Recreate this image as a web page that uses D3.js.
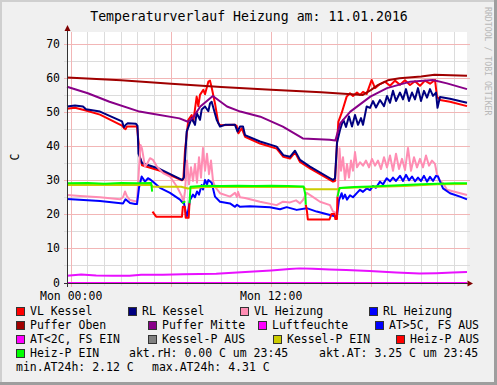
<!DOCTYPE html>
<html>
<head>
<meta charset="utf-8">
<script src="https://cdn.jsdelivr.net/npm/d3@7"></script>
<style>
body { margin: 0; background: #f0f0f0; }
svg { display: block; font-family: "DejaVu Sans Mono", monospace; }
</style>
</head>
<body>
<svg id="chart" width="497" height="385"></svg>
<script>
// values: [hour since Mon 00:00, temperature C]
var vlKessel = [[-0.25,51.2],[0.23,51.5],[0.83,50.8],[1.73,49.5],[3.05,46.3],[3.17,45.5],[3.26,45.2],[3.35,46],[3.95,46],[4.01,43],[4.13,37],[4.25,34.6],[5.33,33],[6.65,30.2],[6.73,30.5],[6.83,39],[7.03,48],[7.23,49.4],[7.33,47.5],[7.53,54.8],[7.63,52],[7.73,55.3],[7.93,56.8],[8.03,55.5],[8.23,59.2],[8.33,59.5],[8.43,57.5],[8.63,52.8],[8.83,47],[8.93,46.4],[9.83,46.5],[9.93,46.2],[10.03,44],[10.23,45.5],[10.43,43],[11.33,41],[12.33,39.5],[12.73,37.1],[13.13,36.6],[13.43,38.4],[13.73,35.6],[14.33,33.7],[15.53,30.3],[15.71,29.8],[15.83,30],[15.95,41],[16.03,47.4],[16.23,50],[16.53,54.8],[16.73,55.8],[16.91,55],[17.15,56],[17.33,55.3],[17.51,56.2],[17.73,55.6],[18.03,59.7],[18.23,57.3],[18.53,58.5],[18.83,59.2],[19.13,58],[19.43,59.5],[19.73,58.3],[20.03,59.6],[20.33,58.2],[20.63,59.3],[20.93,58],[21.23,59.5],[21.53,58.6],[21.83,59.7],[21.95,54.8],[22.13,53.8],[22.73,53.3],[23.75,52]];

var rlKessel = [[-0.25,51.9],[0.23,52.2],[0.71,51.9],[0.89,51.1],[1.73,50.4],[3.05,47.5],[3.17,45.8],[3.29,46.6],[3.41,47],[3.89,46.8],[3.98,46.2],[4.04,38],[4.25,35.3],[5.33,33.5],[6.65,30.3],[6.77,31],[6.93,44.5],[7.23,48.5],[7.43,46.5],[7.53,50],[7.73,48],[7.83,51],[8.03,51.9],[8.23,50.5],[8.33,52.8],[8.43,53.3],[8.73,48],[8.93,46],[9.23,46.5],[9.83,46.5],[9.98,44.5],[10.13,46],[10.31,46],[10.43,43.5],[11.33,41.6],[12.33,40.1],[12.73,37.6],[13.13,37.1],[13.43,38.9],[13.73,36.2],[14.33,34.2],[15.53,30.8],[15.71,30.3],[15.83,30.8],[15.95,41.2],[16.13,45],[16.33,48],[16.49,45.9],[16.67,49],[16.85,46],[17.03,49.4],[17.21,46.5],[17.39,48.5],[17.51,46.5],[17.73,51.9],[17.93,51.5],[18.11,53.5],[18.29,51.6],[18.53,53.8],[18.77,52],[18.95,55],[19.13,53],[19.31,56.5],[19.49,53.5],[19.73,56],[19.91,54],[20.09,57],[20.27,53.5],[20.45,56],[20.63,54],[20.81,57.3],[20.99,53.5],[21.17,56.5],[21.35,54.5],[21.53,57],[21.71,55],[21.89,56],[21.98,51.5],[22.13,54.7],[22.73,54.2],[23.75,53]];

var vlHeizung = [[-0.25,25.9],[0.53,25.6],[1.73,25.2],[2.93,24.6],[3.11,25.2],[3.23,26.9],[3.35,25.5],[3.53,24.4],[3.95,23.9],[4.04,31.3],[4.16,40.6],[4.25,39.5],[4.43,34.2],[4.55,35],[4.73,36.7],[4.91,36.2],[5.15,34.2],[5.51,32.3],[5.93,31.3],[6.35,28.3],[6.65,25.4],[6.73,23.4],[6.83,27],[6.95,36],[7.07,29],[7.19,34],[7.31,30],[7.43,35],[7.55,29.5],[7.67,37],[7.79,31],[7.91,39.7],[8.03,33],[8.15,38],[8.27,32],[8.39,36],[8.51,30],[8.63,28.3],[8.93,26.4],[9.53,25.4],[9.83,26.5],[9.95,25.3],[10.01,26.8],[10.13,25.2],[10.43,25],[11.33,23.9],[12.33,22.9],[12.71,23.9],[13.13,23.7],[13.49,24.3],[13.73,23.4],[13.91,24.4],[14.13,26.5],[14.5,25.3],[14.93,23.9],[15.53,22.9],[15.71,21],[15.95,20.5],[16.03,30],[16.1,39.6],[16.19,33],[16.31,37],[16.43,30.3],[16.55,35],[16.67,31],[16.79,36],[16.91,33],[17.03,38.5],[17.15,34],[17.33,35.5],[17.51,34.5],[17.69,36],[17.87,34],[18.05,36.5],[18.23,34.5],[18.41,36],[18.59,33.5],[18.77,37],[18.95,34],[19.13,37.5],[19.31,33],[19.49,38],[19.67,33.5],[19.85,36.5],[20.03,33.2],[20.21,39.7],[20.39,33],[20.57,37],[20.75,34],[20.93,36.5],[21.11,34],[21.29,37.5],[21.47,34.5],[21.65,36],[21.83,35],[21.95,32],[22.13,30],[22.31,29.4],[22.55,27.4],[23.75,25.9]];

var rlHeizung = [[-0.25,24.7],[1.73,24.1],[3.11,23.4],[3.26,24.6],[3.53,23.5],[3.83,23.2],[3.95,23.2],[4.07,28],[4.23,31.3],[4.43,29.8],[4.61,30.8],[4.73,30.5],[5.33,28],[5.93,26.5],[6.53,24.5],[6.65,23.8],[6.77,23.4],[6.93,19.5],[7.01,21],[7.13,24.4],[7.31,26],[7.43,25.2],[7.55,26.9],[7.67,26],[7.83,28.8],[7.91,27.5],[8.03,30.3],[8.15,29],[8.23,30.3],[8.43,29.5],[8.63,25.4],[8.93,23.9],[9.53,23.4],[9.83,22.4],[9.95,23],[10.13,22.4],[10.73,22.6],[11.93,22.3],[12.53,21.7],[12.93,22.3],[13.53,21.5],[14.13,22],[14.73,21],[15.53,20],[15.71,19.8],[15.83,19.5],[15.95,19.8],[16.07,24.4],[16.23,26.4],[16.31,24.8],[16.43,26],[16.55,24.5],[16.73,25.8],[16.91,25.2],[17.15,26.5],[17.33,27.4],[17.51,26.8],[17.73,27.8],[17.93,27.3],[18.11,28.5],[18.29,28],[18.53,29.8],[18.71,29],[18.93,30.8],[19.13,29.9],[19.31,31],[19.49,30],[19.73,31.5],[19.91,30],[20.09,31.8],[20.27,30.2],[20.45,31.3],[20.63,29.9],[20.81,31],[20.99,30],[21.17,31.5],[21.35,29.8],[21.53,31.2],[21.71,30],[21.89,31.5],[22.01,31.3],[22.31,27.8],[22.73,26.4],[23.33,25.4],[23.75,24.6]];

var pufferOben = [[-0.25,60.4],[3,59.6],[6,58.6],[9,57.6],[12,56.8],[15,56.1],[17.5,55.3],[18,56.8],[18.4,58.2],[19,59.6],[19.7,60.2],[21,60.7],[21.8,61.2],[23.75,60.9]];

var pufferMitte = [[-0.25,57.7],[1,55.8],[2.3,53.3],[4.1,50.4],[4.7,49.9],[6.5,48.4],[7,47.4],[7.3,48.6],[7.75,51.9],[8.5,55],[9.35,51.9],[10.15,50.4],[11.35,48.9],[12.7,46],[13.9,42.5],[15.5,42.1],[15.85,41.9],[16.15,47],[16.75,50.4],[17.95,54.8],[18.95,57.3],[20.35,59.2],[21.7,59.7],[22.55,58.7],[23.75,57]];

var luftfeuchte = [[-0.25,0],[23.75,0]];

var aussenTemp = [[-0.25,2.1],[0.6,2.5],[1.5,2.2],[2.5,2.1],[3.5,2.1],[4.2,2.4],[5.5,2.4],[6.7,2.6],[8.7,2.7],[9.7,3],[10.7,3.3],[12,3.7],[13.1,4.1],[13.7,4.3],[14.5,4.2],[15.5,4],[16.5,3.8],[17.9,3.5],[19.5,3.1],[20.9,2.8],[21.9,2.9],[22.9,3.1],[23.75,3.25]];

var kesselPEin = [[-0.25,28.8],[2,28.8],[4.8,28.8],[4.9,28.3],[6.6,28.3],[7,27.8],[8,28.2],[10,28.2],[13.9,28.2],[14.1,27.6],[16,27.6],[16.2,27.9],[18,28.2],[20,28.5],[22,29],[23.75,29.1]];

// null = pump state not active
var heizPAus = [[4.88,21],[5.1,19.5],[6.65,19.5],[6.7,22.4],[6.82,22.4],[6.87,19.2],[7.05,19.2],[7.1,23.5],[7.12,null],[14.08,23],[14.15,21],[14.2,18.7],[15.5,18.7],[15.62,20.3],[15.8,20.3],[15.85,18.8],[15.95,18.8],[15.98,25.4]];

var heizPEin = [[-0.25,29.3],[1,29.4],[2,29.2],[3,29.4],[4,29.3],[4.8,29.4],[4.86,26.9],[4.87,null],[6.65,23.5],[6.85,24],[6.86,null],[7.1,23.5],[7.16,28.3],[8,28.6],[9,28.5],[10,28.6],[11,28.5],[12,28.6],[13,28.5],[13.95,28.4],[14.05,26],[14.08,23],[14.09,null],[15.98,25.4],[16.1,27.9],[17,28.2],[18,28.4],[19,28.6],[20,28.8],[21,29],[22,29.2],[23,29.3],[23.75,29.3]];

var legendNames = ["VL Kessel", "RL Kessel", "VL Heizung", "RL Heizung",
  "Puffer Oben", "Puffer Mitte", "Luftfeuchte", "AT>5C, FS AUS",
  "AT<2C, FS EIN", "Kessel-P AUS", "Kessel-P EIN", "Heiz-P AUS", "Heiz-P EIN"];
var legendColors = ["#ff0000", "#000080", "#ff8db3", "#0000ff",
  "#a00000", "#880088", "#ff00ff", "#0000ff",
  "#ff00ff", "#808080", "#cccc00", "#ff0000", "#00ff00"];

var infoTexts = ["akt.rH: 0.00 C um 23:45", "akt.AT: 3.25 C um 23:45",
  "min.AT24h: 2.12 C", "max.AT24h: 4.31 C"];

var xTickHours = [0, 12];
var xTickLabels = ["Mon 00:00", "Mon 12:00"];
var yTicks = [0, 10, 20, 30, 40, 50, 60, 70];

// drawing order follows rrdtool definition order
var series = [
  {data: vlKessel, color: legendColors[0]},
  {data: rlKessel, color: legendColors[1]},
  {data: vlHeizung, color: legendColors[2]},
  {data: rlHeizung, color: legendColors[3]},
  {data: pufferOben, color: legendColors[4]},
  {data: pufferMitte, color: legendColors[5]},
  {data: luftfeuchte, color: legendColors[6]},
  {data: aussenTemp, color: "#e810ff"},
  {data: kesselPEin, color: legendColors[10]},
  {data: heizPAus, color: legendColors[11]},
  {data: heizPEin, color: legendColors[12]}
];

// legend layout: [x of item, row]
var legendPos = [[16,0],[128,0],[240,0],[369,0],
  [16,1],[148,1],[258,1],[375,1],
  [16,2],[148,2],[273,2],[396,2],
  [16,3]];
var infoPos = [[129,3],[319,3],[16,4],[152,4]];

var svg = d3.select("#chart");
var W = 497, H = 385;

// background + 3d border
svg.append("rect").attr("width", W).attr("height", H).attr("fill", "#f0f0f0");
svg.append("rect").attr("x", 0).attr("y", 0).attr("width", W).attr("height", 2).attr("fill", "#cfcfcf");
svg.append("rect").attr("x", 0).attr("y", 0).attr("width", 2).attr("height", H).attr("fill", "#cfcfcf");
svg.append("rect").attr("x", 0).attr("y", H - 3).attr("width", W).attr("height", 3).attr("fill", "#9e9e9e");
svg.append("rect").attr("x", W - 3).attr("y", 0).attr("width", 3).attr("height", H).attr("fill", "#9e9e9e");

var x = d3.scaleLinear().domain([-0.25, 23.75]).range([67, 467]);
var y = d3.scaleLinear().domain([0, 73.8]).range([283, 32]);

svg.append("rect")
  .attr("x", x.range()[0]).attr("y", y.range()[1])
  .attr("width", x.range()[1] - x.range()[0])
  .attr("height", y.range()[0] - y.range()[1])
  .attr("fill", "#ffffff");

// grid
var minorH = d3.range(5, 74, 10);
var majorH = d3.range(10, 74, 10);
var minorV = d3.range(0, 24).filter(function(h) { return h % 6 != 0; });
var majorV = d3.range(0, 24, 6);

var grid = svg.append("g").attr("shape-rendering", "crispEdges");
grid.selectAll(".hmin").data(minorH).enter().append("line")
  .attr("x1", 64).attr("x2", 470)
  .attr("y1", function(d) { return y(d); }).attr("y2", function(d) { return y(d); })
  .attr("stroke", "#dcdcdc");
grid.selectAll(".vmin").data(minorV).enter().append("line")
  .attr("y1", y.range()[1]).attr("y2", 286)
  .attr("x1", function(d) { return x(d); }).attr("x2", function(d) { return x(d); })
  .attr("stroke", "#dcdcdc");
grid.selectAll(".hmaj").data(majorH).enter().append("line")
  .attr("x1", 64).attr("x2", 470)
  .attr("y1", function(d) { return y(d); }).attr("y2", function(d) { return y(d); })
  .attr("stroke", "#f2b6b6");
grid.selectAll(".vmaj").data(majorV).enter().append("line")
  .attr("y1", y.range()[1]).attr("y2", 287)
  .attr("x1", function(d) { return x(d); }).attr("x2", function(d) { return x(d); })
  .attr("stroke", "#f2b6b6");

// data lines
var line = d3.line()
  .defined(function(d) { return d[1] != null; })
  .x(function(d) { return x(d[0]); })
  .y(function(d) { return y(d[1]); });

var plot = svg.append("g");
plot.selectAll("path").data(series).enter().append("path")
  .attr("d", function(s) { return line(s.data); })
  .attr("fill", "none")
  .attr("stroke", function(s) { return s.color; })
  .attr("stroke-width", 2)
  .attr("stroke-linejoin", "round");

// axes
svg.append("line").attr("x1", 64).attr("x2", 468).attr("y1", y(0)).attr("y2", y(0))
  .attr("stroke", "#3a2a3a").attr("stroke-width", 1).attr("shape-rendering", "crispEdges");
svg.append("line").attr("x1", 67).attr("x2", 67).attr("y1", 287).attr("y2", 30)
  .attr("stroke", "#333333").attr("stroke-width", 1).attr("shape-rendering", "crispEdges");
svg.append("path").attr("d", "M473,283.5L467.5,280.5L467.5,286.5Z").attr("fill", "#7f0000");
svg.append("path").attr("d", "M67.5,25L64.5,31L70.5,31Z").attr("fill", "#7f0000");

// tick labels
svg.selectAll(".ylab").data(yTicks).enter().append("text")
  .attr("x", 60).attr("y", function(d) { return y(d) + 3.5; })
  .attr("text-anchor", "end").attr("font-size", "11.5px").attr("fill", "#000")
  .text(function(d) { return d; });

svg.selectAll(".xlab").data(xTickHours).enter().append("text")
  .attr("x", function(d) { return x(d); }).attr("y", 300)
  .attr("text-anchor", "middle").attr("font-size", "11.5px").attr("fill", "#000")
  .text(function(d, i) { return xTickLabels[i]; });

// titles
svg.append("text").attr("x", 249).attr("y", 21).attr("text-anchor", "middle")
  .attr("font-size", "13.2px").attr("fill", "#000")
  .text("Temperaturverlauf Heizung am: 11.01.2016");

svg.append("text").attr("transform", "translate(19,157) rotate(-90)")
  .attr("text-anchor", "middle").attr("font-size", "11.5px").attr("fill", "#000")
  .text("C");

svg.append("text").attr("transform", "translate(485,7) rotate(90)")
  .attr("font-size", "8.2px").attr("fill", "#b8b8b8")
  .text("RRDTOOL / TOBI OETIKER");

// legend
var rowY = function(r) { return 315 + r * 14; };
var leg = svg.selectAll(".leg").data(legendNames).enter().append("g")
  .attr("transform", function(d, i) { return "translate(" + legendPos[i][0] + "," + rowY(legendPos[i][1]) + ")"; });
leg.append("rect").attr("x", 0.5).attr("y", -7.5).attr("width", 8).attr("height", 8)
  .attr("fill", function(d, i) { return legendColors[i]; })
  .attr("stroke", "#333").attr("stroke-width", 1).attr("shape-rendering", "crispEdges");
leg.append("text").attr("x", 14).attr("y", 0)
  .attr("font-size", "11.5px").attr("fill", "#000")
  .text(function(d) { return d; });

svg.selectAll(".info").data(infoTexts).enter().append("text")
  .attr("x", function(d, i) { return infoPos[i][0]; })
  .attr("y", function(d, i) { return rowY(infoPos[i][1]); })
  .attr("font-size", "11.5px").attr("fill", "#000")
  .text(function(d) { return d; });
</script>
</body>
</html>
